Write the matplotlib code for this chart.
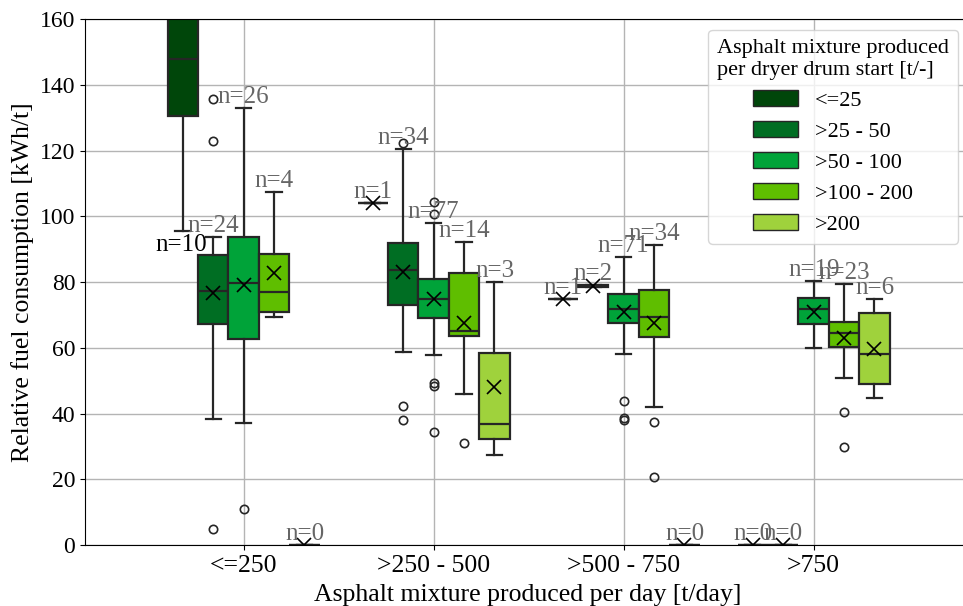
import numpy as np
import matplotlib
matplotlib.use("Agg")
import matplotlib.pyplot as plt
from matplotlib.patches import Patch

plt.rcParams['font.family'] = ['Liberation Serif', 'DejaVu Serif']

# x categories (t/day) and hue levels (t per dryer drum start)
day_groups = ['<=250', '>250 - 500', '>500 - 750', '>750']
start_groups = ['<=25', '>25 - 50', '>50 - 100', '>100 - 200', '>200']
colors = ['#00460a', '#006e23', '#00a339', '#5fbe00', '#9fd23c']

# box statistics, rows = day group, columns = start group
counts = [[10, 24, 26, 4, 0],
          [1, 34, 77, 14, 3],
          [1, 2, 71, 34, 0],
          [0, 0, 19, 23, 6]]
medians = [[147.7, 77.4, 79.8, 77.1, 0],
           [103.9, 83.6, 74.7, 65.2, 36.7],
           [74.7, 78.85, 71.9, 69.3, 0],
           [0, 0, 71.8, 64.6, 58.1]]
q1s = [[130.5, 67.2, 62.7, 71.0, 0],
       [103.9, 73.0, 69.0, 63.6, 32.1],
       [74.7, 78.5, 67.4, 63.2, 0],
       [0, 0, 67.2, 60.3, 49.0]]
q3s = [[175.0, 88.2, 93.6, 88.5, 0],
       [103.9, 92.0, 80.8, 82.8, 58.5],
       [74.7, 79.2, 76.3, 77.6, 0],
       [0, 0, 75.2, 67.9, 70.5]]
whis_lo = [[95.6, 38.3, 37.2, 69.3, 0],
           [103.9, 58.6, 57.8, 45.8, 27.4],
           [74.7, 78.5, 58.1, 41.9, 0],
           [0, 0, 59.8, 50.7, 44.8]]
whis_hi = [[210.0, 93.8, 132.8, 107.5, 0],
           [103.9, 120.4, 98.0, 92.3, 80.1],
           [74.7, 79.2, 87.5, 91.3, 0],
           [0, 0, 80.4, 79.3, 74.8]]
means = [[168.0, 76.6, 79.1, 82.6, 0],
         [103.9, 83.1, 74.7, 67.6, 48.0],
         [74.7, 78.85, 71.0, 67.4, 0],
         [0, 0, 71.0, 63.1, 59.6]]
fliers = [[[], [135.7, 122.8, 4.9], [10.9], [], []],
          [[], [122.4, 42.4, 38.0], [104.2, 100.6, 49.4, 48.3, 34.3], [30.9], []],
          [[], [], [43.9, 38.5, 38.0], [37.5, 20.7], []],
          [[], [], [], [40.5, 29.9], []]]

ymax = 160
fig = plt.figure(figsize=(9.63, 6.06), dpi=100)
ax = fig.add_axes([85 / 963, 61 / 606, 885 / 963, 526 / 606])

width = 0.8 / len(start_groups)
line_c = '#262626'
for j, (hue, col) in enumerate(zip(start_groups, colors)):
    stats = []
    pos = []
    for i in range(len(day_groups)):
        stats.append(dict(med=medians[i][j], q1=q1s[i][j], q3=q3s[i][j],
                          whislo=whis_lo[i][j], whishi=whis_hi[i][j],
                          mean=means[i][j], fliers=fliers[i][j]))
        pos.append(i + (j - 2) * width)
    ax.bxp(stats, positions=pos, widths=width, patch_artist=True,
           showmeans=True, manage_ticks=False,
           boxprops=dict(facecolor=col, edgecolor=line_c, linewidth=1.6),
           medianprops=dict(color=line_c, linewidth=1.6),
           whiskerprops=dict(color=line_c, linewidth=1.6),
           capprops=dict(color=line_c, linewidth=1.6),
           flierprops=dict(marker='o', markersize=6, markerfacecolor='none',
                           markeredgecolor=line_c, markeredgewidth=1.2),
           meanprops=dict(marker='x', markersize=10, markeredgecolor='black',
                          markeredgewidth=1.2))
    # sample size labels above the upper whisker
    for i in range(len(day_groups)):
        if whis_hi[i][j] > ymax:
            ax.text(pos[i] - 0.01, whis_lo[i][j] - 1, f'n={counts[i][j]}', ha='center',
                    va='top', fontsize=18, color='black')
        else:
            ax.text(pos[i], whis_hi[i][j], f'n={counts[i][j]}', ha='center',
                    va='bottom', fontsize=18, color='#666666')

ax.set_xlim(-0.835, -0.835 + 885 / 190)
ax.set_ylim(0, ymax)
ax.set_xticks(range(len(day_groups)))
ax.set_xticklabels(day_groups)
ax.set_yticks(np.arange(0, 161, 20))
ax.tick_params(axis='y', labelsize=17)
ax.tick_params(axis='x', labelsize=18.5)
ax.grid(True, color='#b4b4b4', linewidth=1)
ax.set_axisbelow(True)
ax.set_xlabel('Asphalt mixture produced per day [t/day]', fontsize=18.5, labelpad=5)
ax.set_ylabel('Relative fuel consumption [kWh/t]', fontsize=18.5)

handles = [Patch(facecolor=c, edgecolor=line_c, linewidth=1) for c in colors]
ax.legend(handles, start_groups, title='Asphalt mixture produced\nper dryer drum start [t/-]',
          fontsize=16, title_fontsize=16, loc='upper right',
          bbox_to_anchor=(958 / 963, 1 - 30 / 606), bbox_transform=fig.transFigure,
          borderaxespad=0, labelspacing=0.47)

fig.savefig('out.png', dpi=100)
